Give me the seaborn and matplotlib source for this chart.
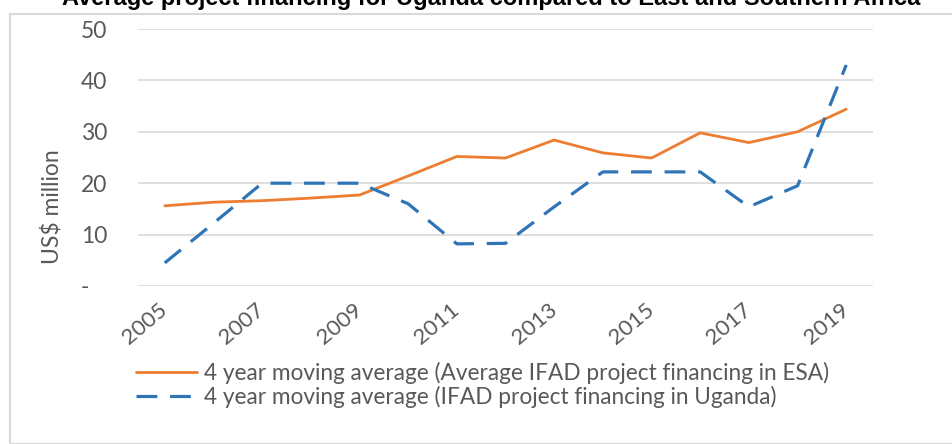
# line chart: IFAD project financing, Uganda vs ESA (4 year moving averages)

import matplotlib
matplotlib.use("Agg")
import matplotlib.pyplot as plt
import matplotlib.patches as patches
import seaborn as sns
import pandas as pd

years = list(range(2005, 2020))
esa_avg = [15.6, 16.3, 16.6, 17.1, 17.7, 21.4, 25.2, 24.9, 28.4, 25.9, 24.9, 29.8, 27.9, 30.0, 34.4]
uganda_avg = [4.5, 12.2, 20.0, 20.0, 20.0, 16.0, 8.2, 8.3, 15.4, 22.2, 22.2, 22.2, 15.4, 19.5, 43.0]
esa_label = "4 year moving average (Average IFAD project financing in ESA)"
uganda_label = "4 year moving average (IFAD project financing in Uganda)"
title = "Average project financing for Uganda compared to East and Southern Africa"
ytick_vals = [0, 10, 20, 30, 40, 50]
ytick_labels = ["-   ", "10", "20", "30", "40", "50"]
xtick_vals = [2005, 2007, 2009, 2011, 2013, 2015, 2017, 2019]

df = pd.DataFrame({"Year": years, "ESA": esa_avg, "Uganda": uganda_avg})

sns.set_style("white")
plt.rcParams["font.family"] = ["Lato", "DejaVu Sans"]

fig = plt.figure(figsize=(9.53, 4.44), dpi=100)
ax = fig.add_axes([138 / 953, 1 - 286 / 444, 735 / 953, 257 / 444])

sns.lineplot(data=df, x="Year", y="ESA", ax=ax, color="#ED7D31", lw=2.0, label=esa_label)
sns.lineplot(data=df, x="Year", y="Uganda", ax=ax, color="#2E75B6", lw=2.3,
             linestyle=(0, (6.5, 4)), label=uganda_label)

ax.set_xlim(2004.45, 2019.55)
ax.set_ylim(0, 50)
ax.set_yticks(ytick_vals)
ax.set_yticklabels(ytick_labels)
ax.set_xticks(xtick_vals)
ax.set_xticklabels([str(y) for y in xtick_vals], rotation=40, ha="right",
                   va="center", rotation_mode="anchor")
ax.tick_params(axis="y", length=0, pad=22, labelsize=16.5, labelcolor="#595959")
ax.tick_params(axis="x", length=0, pad=15, labelsize=16, labelcolor="#595959")
ax.grid(axis="y", color="#D9D9D9", lw=1.2)
ax.set_axisbelow(True)
for s in ax.spines.values():
    s.set_visible(False)

ax.set_xlabel("")
ax.set_ylabel("US$ million", fontsize=16.5, color="#595959")
ax.yaxis.set_label_coords(-0.102, 0.31)

ax.legend(loc="upper left", bbox_to_anchor=(136 / 953, 1 - 362 / 444),
          bbox_transform=fig.transFigure, frameon=False, fontsize=16.3,
          handlelength=2.7, handletextpad=0.3, labelspacing=0.08,
          borderaxespad=0, borderpad=0, labelcolor="#595959")

# cropped title and outer chart border, as in the source image
fig.text(62 / 953, 1 - 5 / 444, title, ha="left", va="baseline", fontsize=17,
         fontweight="bold", family="Liberation Sans", color="black")
fig.patches.append(patches.Rectangle((10 / 953, 0), 1.0, 1 - 14 / 444,
                                     transform=fig.transFigure, fill=False,
                                     edgecolor="#D9D9D9", lw=1.5))

fig.savefig("out.png", dpi=100)
